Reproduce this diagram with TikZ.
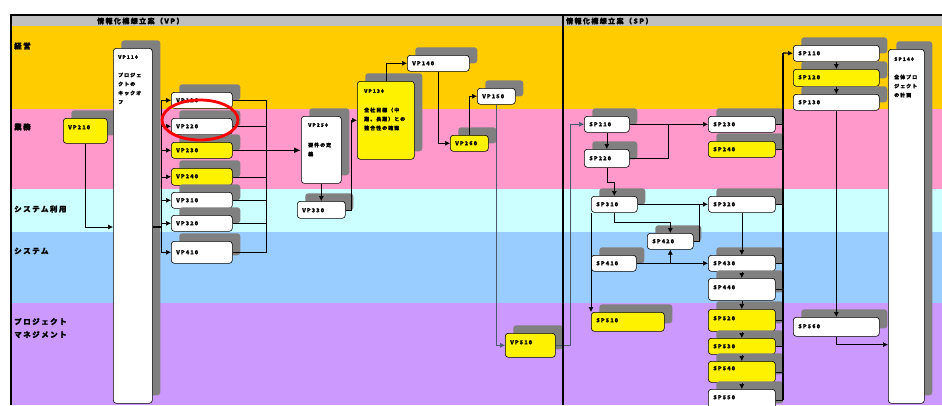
\documentclass[tikz,border=0pt]{standalone}
\usepackage{fontspec}
\newfontfamily\jp{Noto Sans CJK JP}[LetterSpace=20, BoldFeatures={FakeBold=1.5}]
\usepackage{xcolor}
\usepackage{tikz}
\usetikzlibrary{positioning,arrows.meta,shapes.geometric,shadows}

\definecolor{laneexec}{HTML}{FFCC00}
\definecolor{lanebiz}{HTML}{FF99CC}
\definecolor{laneuse}{HTML}{CCFFFF}
\definecolor{lanesys}{HTML}{99CCFF}
\definecolor{lanepm}{HTML}{CC99FF}
\definecolor{headgray}{HTML}{C0C0C0}
\definecolor{shadegray}{HTML}{808080}
\definecolor{slate}{HTML}{4A5A6E}

\begin{document}
\begin{tikzpicture}[
  x=1pt, y=-1pt,
  box/.style={draw, rounded corners=3pt, fill=white, anchor=north west, align=left,
    inner xsep=5pt, inner ysep=0pt, text height=10pt, text depth=6pt, line width=0.6pt,
    font=\jp\bfseries\fontsize{5.5}{7}\selectfont,
    drop shadow={shadow xshift=8pt, shadow yshift=8pt, fill=shadegray, opacity=1}},
  ybox/.style={box, fill=yellow},
  txt/.style={inner sep=0pt, align=left, font=\jp\bfseries\fontsize{5}{9}\selectfont},
  lane/.style={anchor=west, inner sep=0pt, align=left, font=\jp\bfseries\fontsize{7.5}{13}\selectfont},
  head/.style={anchor=west, inner sep=0pt, font=\jp\bfseries\fontsize{7}{9}\selectfont},
  link/.style={line width=0.6pt},
  arr/.style={link, -{Latex[length=5pt, width=5pt]}},
  bigarr/.style={line width=1.6pt, -{Latex[length=7pt, width=6pt]}}
]
  \useasboundingbox (0,0) rectangle (942,405);
  \clip (0,0) rectangle (942,405);

  \fill[headgray] (11,15) rectangle (942,26);
  \fill[laneexec] (11,26) rectangle (942,109);
  \fill[lanebiz] (11,109) rectangle (942,189);
  \fill[laneuse] (11,189) rectangle (942,232);
  \fill[lanesys] (11,232) rectangle (942,303);
  \fill[lanepm] (11,303) rectangle (942,405);

  \node[head] (vptitle) at (97,21) {情報化構想立案（VP）};
  \node[head] (sptitle) at (566,21) {情報化構想立案（SP）};
  \node[lane] (exec) at (14,46) {経営};
  \node[lane] (biz) at (14,127) {業務};
  \node[lane] (use) at (14,209) {システム利用};
  \node[lane] (sys) at (14,251) {システム};
  \node[lane] (pm) at (14,328) {プロジェクト\\マネジメント};

  \node[ybox, text width=34pt, text height=11pt, text depth=14pt] (vp210) at (63,118) {VP210};
  \node[box, minimum width=39pt, minimum height=355pt] (vp110) at (113,48) {};
  \node[txt, below right=7pt and 5pt of vp110.north west] (vp110t) {VP110\\[9pt]プロジェ\\クトの\\キックオ\\フ};
  \node[box, text width=51pt] (vp120) at (171,92) {VP120};
  \node[box, text width=51pt] (vp220) at (171,118) {VP220};
  \node[ybox, text width=51pt] (vp230) at (171,142) {VP230};
  \node[ybox, text width=51pt, text depth=7pt] (vp240) at (171,168) {VP240};
  \node[box, text width=51pt] (vp310) at (171,192) {VP310};
  \node[box, text width=51pt] (vp320) at (171,215) {VP320};
  \node[box, text width=51pt, text height=13pt, text depth=9pt] (vp410) at (171,241) {VP410};
  \node[box, minimum width=40pt, minimum height=67pt] (vp250) at (301,116) {};
  \node[txt, below right=7pt and 7pt of vp250.north west] (vp250t) {VP250\\[11pt]要件の定\\義};
  \node[box, text width=38pt, text height=11pt, text depth=6pt] (vp330) at (297,201) {VP330};
  \node[ybox, minimum width=57pt, minimum height=78pt] (vp130) at (357,81) {};
  \node[txt, below right=8pt and 7pt of vp130.north west] (vp130t) {VP130\\[10pt]全社目標（中\\期、長期）との\\整合性の確認};
  \node[box, text width=52pt] (vp140) at (407,55) {VP140};
  \node[ybox, text width=28pt] (vp260) at (450,135) {VP260};
  \node[box, text width=28pt] (vp150) at (477,88) {VP150};
  \node[ybox, text width=40pt, text height=11pt, text depth=13pt] (vp510) at (505,333) {VP510};

  \node[box, text width=35pt] (sp210) at (584,116) {SP210};
  \node[box, text width=35pt, text height=11pt, text depth=7pt] (sp220) at (584,149) {SP220};
  \node[box, text width=57pt] (sp230) at (708,116) {SP230};
  \node[ybox, text width=57pt] (sp240) at (708,141) {SP240};
  \node[box, text width=36pt] (sp310) at (591,196) {SP310};
  \node[box, text width=57pt] (sp320) at (708,196) {SP320};
  \node[box, text width=36pt] (sp420) at (647,233) {SP420};
  \node[box, text width=35pt] (sp410) at (591,255) {SP410};
  \node[box, text width=57pt] (sp430) at (708,255) {SP430};
  \node[box, text width=57pt, text height=11pt, text depth=11pt] (sp440) at (708,278) {SP440};
  \node[ybox, text width=57pt, text height=11pt, text depth=11pt] (sp520) at (708,309) {SP520};
  \node[ybox, text width=57pt] (sp530) at (708,338) {SP530};
  \node[ybox, text width=57pt, text height=9pt, text depth=12pt] (sp540) at (708,361) {SP540};
  \node[box, text width=57pt, text depth=12pt] (sp550) at (708,389) {SP550};
  \node[ybox, text width=63pt, text depth=9pt] (sp510) at (591,312) {SP510};
  \node[box, text width=76pt] (sp110) at (793,45) {SP110};
  \node[ybox, text width=76pt, text depth=7pt] (sp120) at (793,69) {SP120};
  \node[box, text width=76pt] (sp130) at (793,94) {SP130};
  \node[box, text width=76pt, text height=11pt, text depth=8pt] (sp560) at (793,317) {SP560};
  \node[box, minimum width=36pt, minimum height=354pt] (sp140) at (888,49) {};
  \node[txt, below right=8pt and 6pt of sp140.north west] (sp140t) {SP140\\[9pt]全体プロ\\ジェクト\\の計画};

  \coordinate (fan) at (161,227);
  \coordinate (merge) at (266,150);
  \draw[arr] (vp210.south) |- (fan -| vp110.west);
  \draw[link, line width=1.2pt] (fan -| vp110.east) -- (fan);
  \foreach \n in {vp120,vp220,vp230,vp240,vp310,vp320,vp410}
    \draw[arr] (fan) |- (\n.west);
  \foreach \n in {vp120,vp220,vp240,vp310,vp320,vp410}
    \draw[link] (\n.east) -| (merge);
  \draw[bigarr] (vp230.east) -- (vp230.east -| vp250.west);
  \draw[arr] (vp250.south) -- (vp250.south |- vp330.north);
  \draw[arr] (vp330.east) -- ++(6,0) |- (vp130.west);
  \draw[arr] (vp130.north) |- (vp140.west);
  \draw[arr] (vp140.south) |- (vp260.west);
  \draw[arr] (vp260.north) |- (vp150.west);
  \draw[arr, slate] (vp150.south) |- (vp510.west);
  \draw[arr, slate] (vp510.east) -- ++(15,0) |- (sp210.west);

  \coordinate (sjoin1) at (668,124);
  \coordinate (sjoin2) at (699,204);
  \coordinate (strunk) at (783,53);
  \draw[arr] (sp210.south) -- (sp220.north);
  \draw[arr] (sp210.east) -- (sp230.west);
  \draw[link] (sp220.east) -| (sjoin1);
  \draw[arr] (sp220.south) -- ++(0,15) -| (sp310.north);
  \draw[arr] (sp310.east) -- (sp320.west);
  \draw[arr] (sp310.south) -- ++(0,10) -| (sp420.north);
  \draw[link] (sp420.east) -| (sjoin2);
  \draw[arr] (sp410.east) -- (sp430.west);
  \draw[arr] (sp420.south |- sp410.east) -- (sp420.south);
  \draw[arr] (sp320.south) -- (sp430.north);
  \foreach \a/\b in {sp430/sp440,sp440/sp520,sp520/sp530,sp530/sp540,sp540/sp550}
    \draw[arr] (\a.south) -- (\b.north);
  \draw[arr] (sp310.south west) -- (sp510.north west);
  \draw[line width=1.2pt] (strunk) -- (strunk |- sp550.east);
  \foreach \n in {sp230,sp240,sp320,sp430,sp440,sp520,sp530,sp540,sp550}
    \draw[link] (\n.east) -- (\n.east -| strunk);
  \draw[arr, line width=1.2pt] (strunk) -- (sp110.west);
  \draw[arr] (sp110.south) -- (sp120.north);
  \draw[arr] (sp120.south) -- (sp130.north);
  \draw[arr] (sp130.south) -- (sp560.north);
  \draw[arr] (sp560.south) -- ++(0,8) coordinate (sbend) -- (sbend -| sp140.west);

  \node[draw=red, ellipse, line width=2.8pt, minimum width=76pt, minimum height=40pt, inner sep=0pt] (focus) at (200,120) {};

  \draw[line width=1.8pt] (11,405) -- (11,15) -- (942,15);
  \draw[line width=2.4pt] (563,15) -- (563,405);
\end{tikzpicture}
\end{document}
